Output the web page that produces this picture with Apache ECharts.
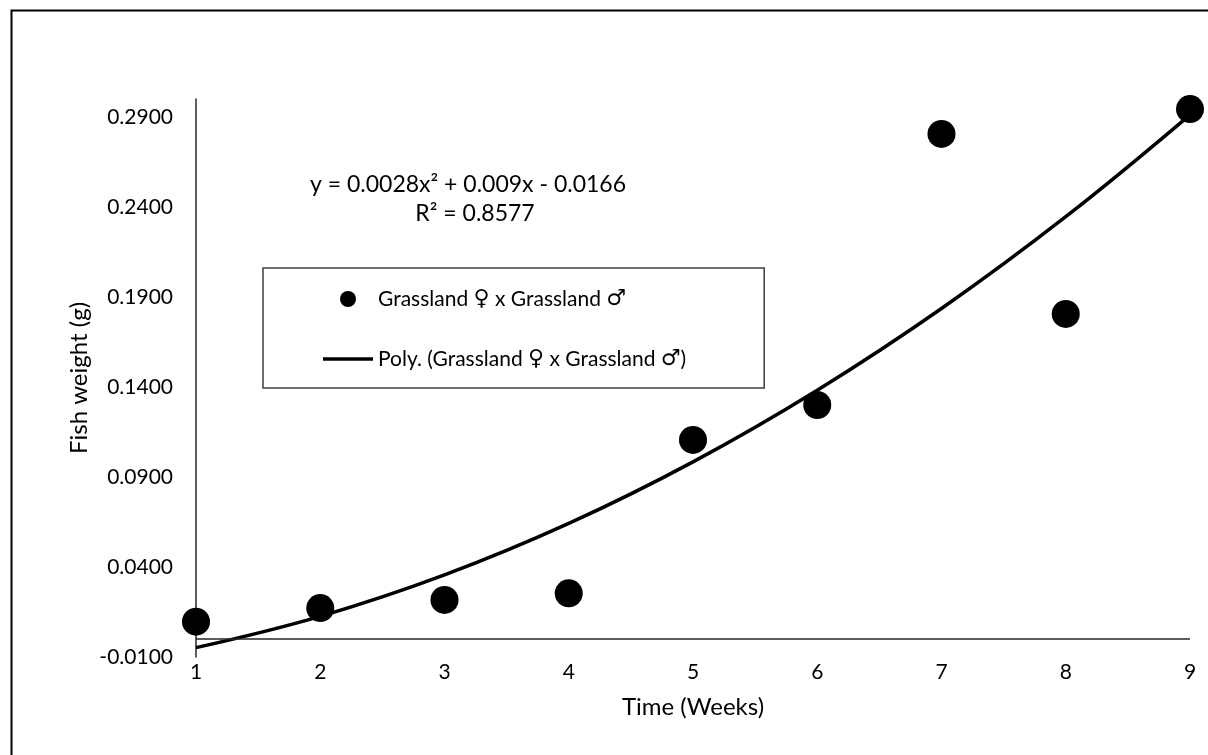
<!DOCTYPE html>
<html>
<head>
<meta charset="utf-8">
<script src="https://cdn.jsdelivr.net/npm/echarts@6/dist/echarts.min.js"></script>
<style>
html,body{margin:0;padding:0;background:#fff;}
#chart{width:1208px;height:755px;}
</style>
</head>
<body>
<div id="chart"></div>
<script>
// weeks on x, fish weight (g) on y
var weeks = [1, 2, 3, 4, 5, 6, 7, 8, 9];
var weights = [0.0096, 0.0172, 0.0217, 0.0254, 0.1106, 0.1300, 0.2806, 0.1806, 0.2944];
// trend line at each week
var trend = [-0.0048, 0.0126, 0.0356, 0.0642, 0.0984, 0.1382, 0.1836, 0.2346, 0.2912];
var seriesNames = ['Grassland \u2640 x Grassland \u2642', 'Poly. (Grassland \u2640 x Grassland \u2642)'];
var eqText = ['y = 0.0028x\u00b2 + 0.009x - 0.0166', 'R\u00b2 = 0.8577'];
var xTitle = 'Time (Weeks)';
var yTitle = 'Fish weight (g)';

var font = 'Lato, "Open Sans", sans-serif';

var myChart = echarts.init(document.getElementById('chart'));
myChart.setOption({
	animation: false,
	grid: {left: 196, right: 18, top: 99, bottom: 98},
	xAxis: {
		type: 'value',
		min: 1,
		max: 9,
		interval: 1,
		axisLine: {show: false, onZero: false},
		axisTick: {show: false},
		splitLine: {show: false},
		axisLabel: {color: '#000', fontFamily: font, fontSize: 21, margin: 5}
	},
	yAxis: {
		type: 'value',
		min: -0.01,
		max: 0.30,
		interval: 0.05,
		axisLine: {show: true, lineStyle: {color: '#262626', width: 1.5}},
		axisTick: {show: false},
		splitLine: {show: false},
		axisLabel: {
			color: '#000', fontFamily: font, fontSize: 21, margin: 23,
			showMaxLabel: false,
			formatter: function (v) { return v.toFixed(4); }
		}
	},
	legend: {
		orient: 'vertical',
		left: 263,
		top: 268,
		padding: [20, 78, 18, 60],
		itemWidth: 50,
		itemHeight: 16,
		itemGap: 38,
		borderColor: '#404040',
		borderWidth: 1.5,
		backgroundColor: '#fff',
		textStyle: {
			color: '#000', fontFamily: font, fontSize: 21,
			rich: {s: {fontFamily: '"DejaVu Sans"', fontSize: 22, color: '#000'}}
		},
		formatter: function (name) {
			// gender signs look better in DejaVu
			return name.replace(/[\u2640\u2642]/g, function (m) { return '{s|' + m + '}'; });
		},
		data: [
			{name: seriesNames[0], icon: 'circle'},
			{name: seriesNames[1], icon: 'path://M0,0H50V3.5H0Z'}
		]
	},
	graphic: [
		{type: 'rect', left: 9, top: 8, shape: {width: 1260, height: 800}, style: {fill: 'none', stroke: '#000', lineWidth: 2}, silent: true},
		{type: 'text', x: 468, y: 185, style: {text: eqText[0], fill: '#000', font: '23px ' + font, align: 'center', verticalAlign: 'middle'}},
		{type: 'text', x: 475, y: 214, style: {text: eqText[1], fill: '#000', font: '23px ' + font, align: 'center', verticalAlign: 'middle'}},
		{type: 'text', x: 693, y: 707, style: {text: xTitle, fill: '#000', font: '24px ' + font, align: 'center', verticalAlign: 'middle'}},
		{type: 'text', x: 79, y: 378, rotation: Math.PI / 2,
			style: {text: yTitle, fill: '#000', font: '24px ' + font, align: 'center', verticalAlign: 'middle'}}
	],
	series: [
		{
			name: seriesNames[1],
			type: 'line',
			data: weeks.map(function (w, i) { return [w, trend[i]]; }),
			smooth: 0.4,
			symbol: 'none',
			lineStyle: {color: '#000', width: 3.5},
			itemStyle: {color: '#000'},
			z: 2
		},
		{
			name: seriesNames[0],
			type: 'scatter',
			data: weeks.map(function (w, i) { return [w, weights[i]]; }),
			symbolSize: 28,
			itemStyle: {color: '#000', opacity: 1},
			z: 3,
			markLine: {
				silent: true,
				symbol: ['none', 'none'],
				label: {show: false},
				lineStyle: {color: '#262626', width: 1.5, type: 'solid'},
				data: [{yAxis: 0}]
			}
		}
	]
});
</script>
</body>
</html>
